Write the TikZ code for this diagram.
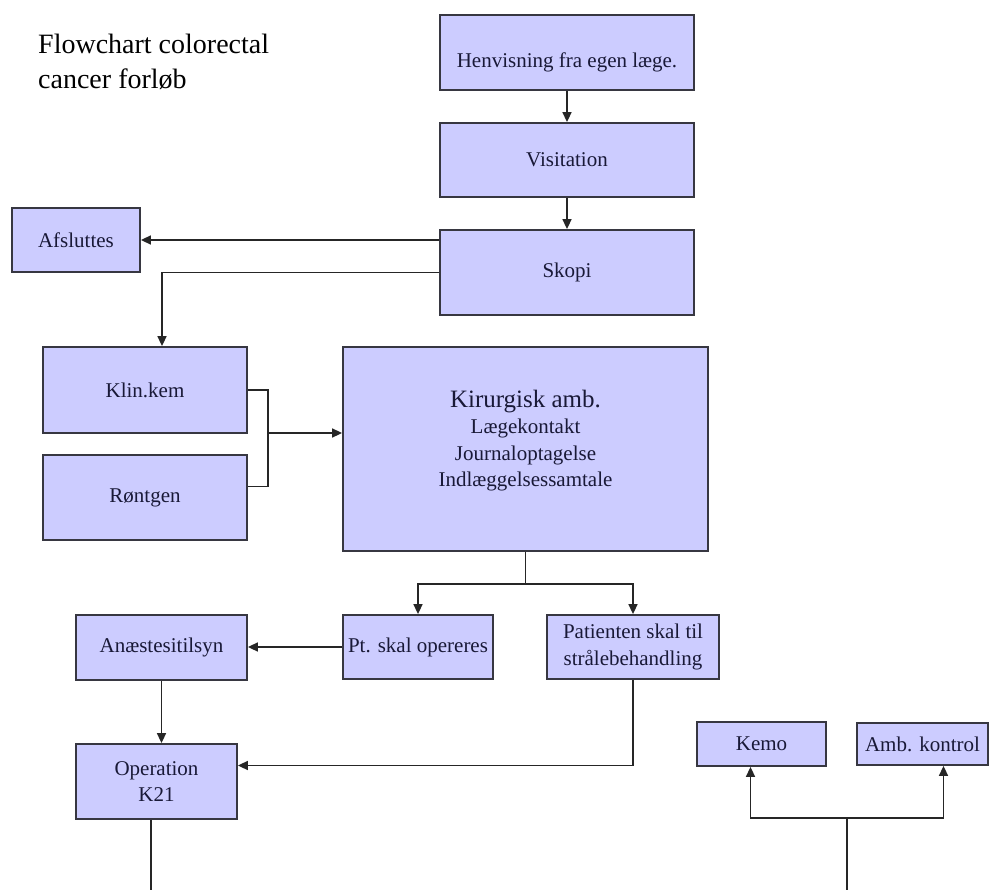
\documentclass[tikz,border=0pt]{standalone}
\usepackage{fontspec}
\setmainfont{Liberation Serif}
\usepackage{tikz}
\usetikzlibrary{arrows.meta, positioning, calc}

\definecolor{boxfill}{RGB}{204,204,255}
\definecolor{boxline}{RGB}{55,55,65}
\definecolor{txtnavy}{RGB}{25,25,55}

\begin{document}
\begin{tikzpicture}[x=1pt, y=-1pt, >={Triangle[length=10pt,width=9pt]}, every node/.style={font=\fontsize{21}{26.5}\selectfont, text=txtnavy}]
            % node styles: lavender boxes with a dark outline
            \tikzset{
                flowbox/.style={rectangle, draw=boxline, fill=boxfill, line width=1.8pt, align=center, inner sep=2pt},
                link/.style={draw=black!85, line width=1.6pt}
            }
            \useasboundingbox (0,0) rectangle (990,890);
            % title
            \node[anchor=north west, inner sep=0pt, align=left, text=black, font=\fontsize{28}{35}\selectfont] (title) at (38,34) {Flowchart colorectal\\cancer forløb};
            % boxes
            \node[flowbox, minimum width=254pt, minimum height=75pt, text height=30pt, text depth=0pt] (hen) at (567,52.5) {Henvisning fra egen læge.};
            \node[flowbox, minimum width=254pt, minimum height=74pt] (vis) at (567,160) {Visitation};
            \node[flowbox, minimum width=254pt, minimum height=85pt] (sko) at (567,272.5) {Skopi};
            \node[flowbox, minimum width=128pt, minimum height=64pt] (afs) at (76,240) {Afsluttes};
            \node[flowbox, minimum width=204pt, minimum height=86pt] (klin) at (145,390) {Klin.kem};
            \node[flowbox, minimum width=204pt, minimum height=85pt] (ront) at (145,497.5) {Røntgen};
            \node[flowbox, minimum width=365pt, minimum height=204pt, text depth=21pt] (kir) at (525.5,449)
                {{\fontsize{25}{28}\selectfont Kirurgisk amb.}\\Lægekontakt\\Journaloptagelse\\Indlæggelsessamtale};
            \node[flowbox, minimum width=150pt, minimum height=64pt] (pt) at (418,647) {Pt. skal opereres};
            \node[flowbox, minimum width=172pt, minimum height=64pt] (pat) at (633,647) {Patienten skal til\\strålebehandling};
            \node[flowbox, minimum width=171pt, minimum height=65pt] (ana) at (161.5,647.5) {Anæstesitilsyn};
            \node[flowbox, minimum width=161pt, minimum height=75pt] (op) at (156.5,781.5) {Operation\\K21};
            \node[flowbox, minimum width=129pt, minimum height=44pt] (kemo) at (761.5,744) {Kemo};
            \node[flowbox, minimum width=131pt, minimum height=42pt] (amb) at (922.5,744) {Amb. kontrol};
            % junction points
            \coordinate (labmerge) at (268,433);
            \coordinate (kirsplit) at ($(kir.south)+(0,32)$);
            \coordinate (opout) at (151,890);
            \coordinate (kemoin) at (847,890);
            \coordinate (kemosplit) at (847,818);
            % connectors
            \draw[link, ->] (hen.south) -- (vis.north);
            \draw[link, ->] (vis.south) -- (sko.north);
            \draw[link, ->] (sko.west |- afs.east) -- (afs.east);
            \draw[link, ->] (sko.west) -| ([xshift=17pt]klin.north);
            \draw[link] (klin.east) -| (labmerge) |- ([yshift=11pt]ront.east);
            \draw[link, ->] (labmerge) -- (labmerge -| kir.west);
            \draw[link] (kir.south) -- (kirsplit);
            \draw[link, ->] (kirsplit) -| (pt.north);
            \draw[link, ->] (kirsplit) -| (pat.north);
            \draw[link, ->] (pt.west) -- (pt.west -| ana.east);
            \draw[link, ->] (ana.south) -- (ana.south |- op.north);
            \draw[link, ->] (pat.south) |- ([yshift=16pt]op.east);
            \draw[link] (opout |- op.south) -- (opout);
            \draw[link] (kemoin) -- (kemosplit);
            \draw[link, ->] (kemosplit) -| ([xshift=-11pt]kemo.south);
            \draw[link, ->] (kemosplit) -| ([xshift=21pt]amb.south);
        \end{tikzpicture}
\end{document}
